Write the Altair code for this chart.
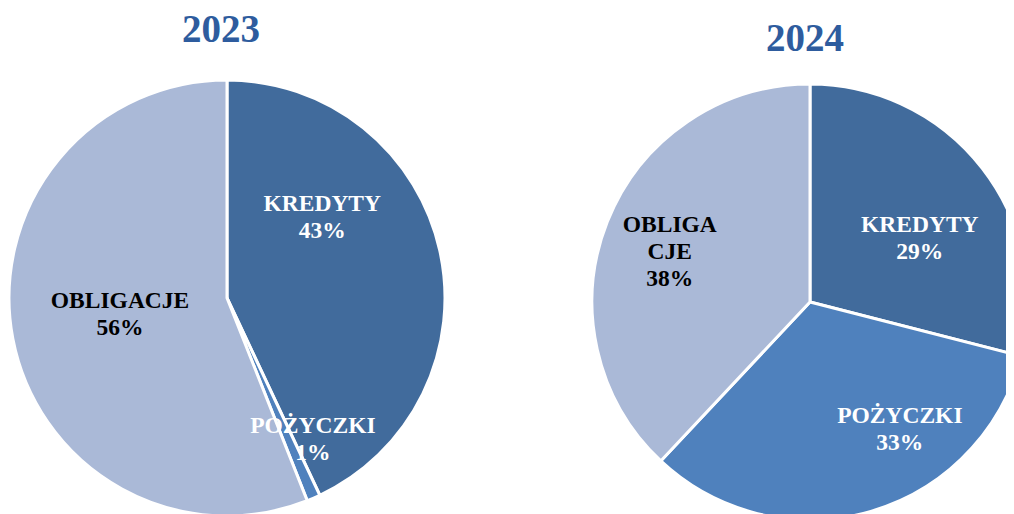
import math
import altair as alt
import pandas as pd

years = ["2023", "2024"]
categories = ["KREDYTY", "POŻYCZKI", "OBLIGACJE"]
shares_2023 = [43, 1, 56]
shares_2024 = [29, 33, 38]
label_text = {
    "2023": ["KREDYTY\n43%", "POŻYCZKI\n1%", "OBLIGACJE\n56%"],
    "2024": ["KREDYTY\n29%", "POŻYCZKI\n33%", "OBLIGA\nCJE\n38%"],
}

# label placement (style): angle from 12 o'clock clockwise in degrees, radius in px
label_angle = {"2023": [45.3, 146.1, 268.4], "2024": [55.0, 141.7, 298.8]}
label_radius = {"2023": [134, 154, 107], "2024": [134, 145, 160]}

colors = ["#416B9C", "#4F81BD", "#AAB9D7"]
text_colors = ["white", "white", "black"]
centers = {"2023": (219, 290), "2024": (802, 294)}  # chart coords (page minus 8px margin)
title_pos = {"2023": (213, 22), "2024": (797, 31)}
R = 218

rows = []
for yr, shares in zip(years, [shares_2023, shares_2024]):
    for i, (c, s) in enumerate(zip(categories, shares)):
        rows.append({
            "year": yr, "cat": c, "share": s, "idx": i,
            "label": label_text[yr][i],
            "la": math.radians(label_angle[yr][i]),
            "lr": label_radius[yr][i],
            "tcol": text_colors[i],
        })
df = pd.DataFrame(rows)

base = alt.Chart(df)
layers = []
for yr in years:
    cx, cy = centers[yr]
    arc = base.transform_filter(alt.datum.year == yr).mark_arc(
        outerRadius=R, stroke="white", strokeWidth=3
    ).encode(
        theta=alt.Theta("share:Q", stack=True),
        color=alt.Color("cat:N", scale=alt.Scale(domain=categories, range=colors), legend=None),
        order=alt.Order("idx:Q"),
        x=alt.value(cx), y=alt.value(cy),
    )
    txt = base.transform_filter(alt.datum.year == yr).mark_text(
        font="Liberation Serif", fontWeight="bold", fontSize=23.5, lineHeight=27,
        lineBreak="\n", align="center", baseline="middle",
    ).encode(
        theta=alt.Theta("la:Q", scale=None, stack=False),
        radius=alt.Radius("lr:Q", scale=None),
        text="label:N",
        color=alt.Color("tcol:N", scale=None),
        x=alt.value(cx), y=alt.value(cy),
    )
    tx, ty = title_pos[yr]
    title = alt.Chart(pd.DataFrame({"t": [yr]})).mark_text(
        font="Liberation Serif", fontWeight="bold", fontSize=39, color="#2E5C9E",
        align="center", baseline="middle",
    ).encode(text="t:N", x=alt.value(tx), y=alt.value(ty))
    layers += [arc, txt, title]

chart = alt.layer(*layers).resolve_scale(theta="independent", radius="independent", color="independent").properties(
    width=998, height=506, padding=0, autosize="none"
).configure_view(stroke=None)

chart.save("out.html", embed_options={"renderer": "svg", "actions": False})
